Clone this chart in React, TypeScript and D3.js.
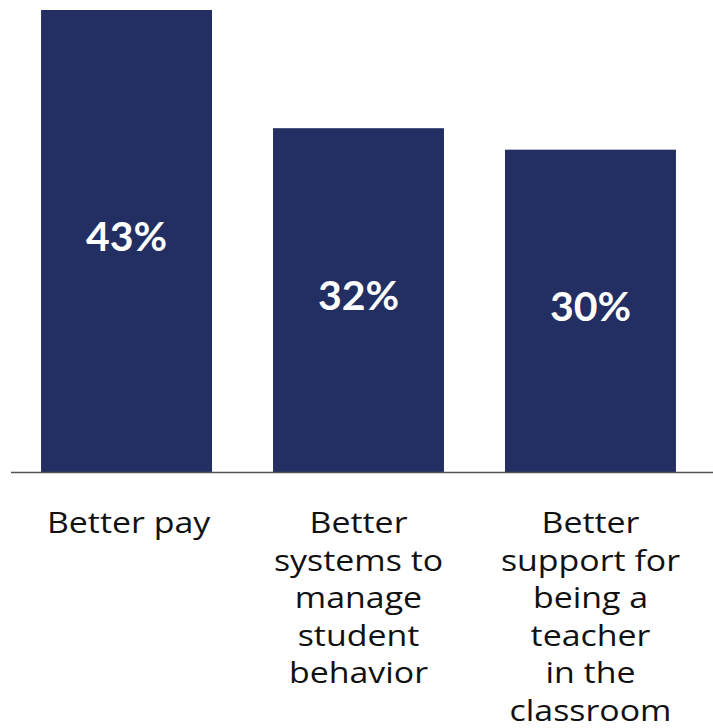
import { useEffect, useRef } from "react";
import * as d3 from "d3";

const categories = ["Better pay", "Better systems to manage student behavior", "Better support for being a teacher in the classroom"];
const values = [43, 32, 30];
const labelLines = [
    ["Better pay"],
    ["Better", "systems to", "manage", "student", "behavior"],
    ["Better", "support for", "being a", "teacher", "in the", "classroom"],
];

export default function App() {
    const svgRef = useRef<SVGSVGElement | null>(null);

    useEffect(() => {
        document.body.style.margin = "0";
        const width = 713;
        const height = 728;
        const baseline = 472;

        const svg = d3.select(svgRef.current)
            .attr("width", width)
            .attr("height", height)
            .attr("viewBox", `0 0 ${width} ${height}`);
        svg.selectAll("*").remove();

        // Scales
        const x = d3.scaleBand<string>()
            .domain(categories)
            .range([9.5, 707.5])
            .paddingInner(0.263)
            .paddingOuter(0.136);

        const y = d3.scaleLinear()
            .domain([0, 43])
            .range([baseline, 10]);

        // Bars
        svg.selectAll(".bar")
            .data(values)
            .enter()
            .append("rect")
            .attr("class", "bar")
            .attr("x", (d, i) => x(categories[i]) ?? 0)
            .attr("y", d => y(d))
            .attr("width", x.bandwidth())
            .attr("height", d => baseline - y(d))
            .attr("fill", "#232f62");

        // Value labels
        svg.selectAll(".value")
            .data(values)
            .enter()
            .append("text")
            .attr("class", "value")
            .attr("x", (d, i) => (x(categories[i]) ?? 0) + x.bandwidth() / 2)
            .attr("y", d => (y(d) + baseline) / 2 + 10)
            .attr("text-anchor", "middle")
            .attr("fill", "#fff")
            .style("font-family", "Lato, 'Open Sans', sans-serif")
            .style("font-weight", "bold")
            .style("font-size", "41px")
            .text(d => `${d}%`);

        // Baseline
        svg.append("line")
            .attr("x1", 11)
            .attr("x2", width)
            .attr("y1", baseline + 0.5)
            .attr("y2", baseline + 0.5)
            .attr("stroke", "#555")
            .attr("stroke-width", 1.5);

        // Category labels (the source font is a bit wider, so stretch slightly)
        labelLines.forEach((lines, i) => {
            const cx = (x(categories[i]) ?? 0) + x.bandwidth() / 2 + (i === 0 ? 2 : 0);
            const t = svg.append("text")
                .attr("transform", `translate(${cx},0) scale(1.13,1)`)
                .attr("text-anchor", "middle")
                .attr("fill", "#111")
                .style("font-family", "'Open Sans', Lato, sans-serif")
                .style("font-size", "30px");
            lines.forEach((line, j) => {
                t.append("tspan")
                    .attr("x", 0)
                    .attr("y", 533 + j * 37.6)
                    .text(line);
            });
        });
    }, []);

    return <svg ref={svgRef} style={{ display: "block" }} />;
}
